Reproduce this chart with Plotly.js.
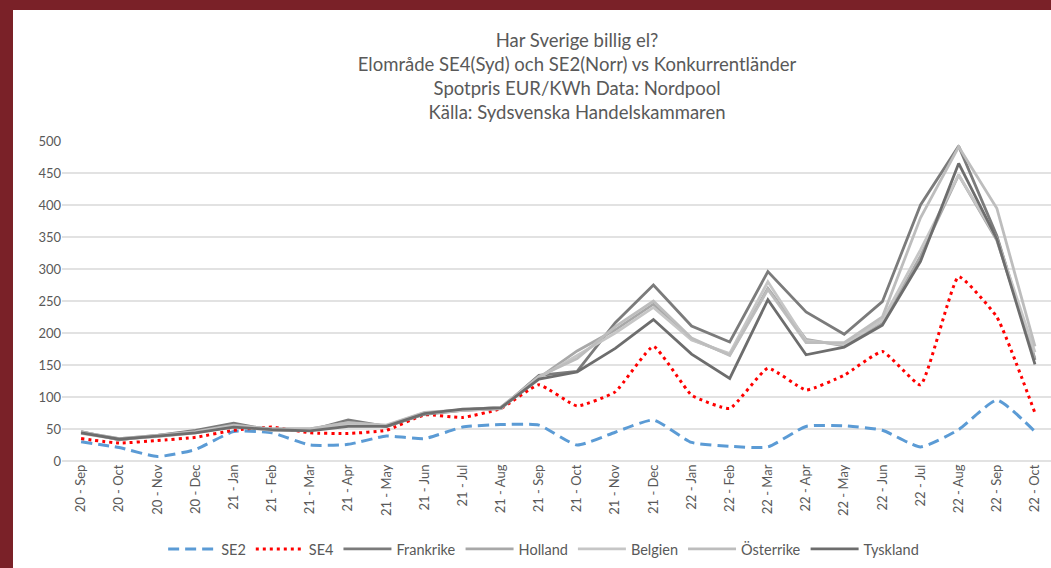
<!DOCTYPE html>
<html>
<head>
<meta charset="utf-8">
<script src="https://cdn.plot.ly/plotly-3.0.1.min.js"></script>
<style>
  html, body { margin: 0; padding: 0; background: #7a2128; width: 1051px; height: 568px; overflow: hidden; }
  #chart { position: absolute; left: 13px; top: 10px; width: 1038px; height: 558px; background: #ffffff; }
</style>
</head>
<body>
<div id="chart"></div>
<script>
const categories = ["20 - Sep","20 - Oct","20 - Nov","20 - Dec","21 - Jan","21 - Feb","21 - Mar","21 - Apr","21 - May","21 - Jun","21 - Jul","21 - Aug","21 - Sep","21 - Oct","21 - Nov","21 - Dec","22 - Jan","22 - Feb","22 - Mar","22 - Apr","22 - May","22 - Jun","22 - Jul","22 - Aug","22 - Sep","22 - Oct"];

const se2       = [30,21,7,18,46,44,25,26,39,35,53,57,56,25,45,64,29,23,22,54,55,48,22,49,95,46];
const se4       = [35,28,32,37,48,53,44,43,48,72,68,82,119,86,108,179,103,82,145,111,134,171,119,288,225,75];
const frankrike = [46,33,40,48,59,48,48,64,54,73,79,82,134,140,216,275,211,186,296,233,198,249,400,492,352,158];
const holland   = [45,35,40,45,55,50,50,60,55,75,80,84,130,172,205,245,190,166,270,190,180,215,320,447,345,160];
const belgien   = [43,34,38,44,54,48,49,57,55,74,79,82,130,165,200,240,189,168,280,188,182,220,330,447,348,170];
const osterrike = [45,35,40,46,56,50,50,60,56,76,80,84,132,160,210,250,192,165,268,185,185,225,380,491,395,179];
const tyskland  = [44,34,39,44,53,49,47,54,54,74,81,83,128,139,176,221,167,129,252,166,178,212,312,465,347,151];

const titleLines = ["Har Sverige billig el?","Elområde SE4(Syd) och SE2(Norr) vs Konkurrentländer","Spotpris EUR/KWh Data: Nordpool","Källa: Sydsvenska Handelskammaren"];

const FONT = "Lato, 'Open Sans', sans-serif";

const traces = [
  {name:"SE2", y:se2, line:{color:"#5b9bd5", width:3, dash:"11px,6px", shape:"spline", smoothing:0.5}},
  {name:"SE4", y:se4, line:{color:"#ff0000", width:3, dash:"3px,4px", shape:"spline", smoothing:0.4}},
  {name:"Frankrike", y:frankrike, line:{color:"#7b7b7b", width:2.8}},
  {name:"Holland", y:holland, line:{color:"#a8a8a8", width:2.8}},
  {name:"Belgien", y:belgien, line:{color:"#c6c6c6", width:2.8}},
  {name:"Österrike", y:osterrike, line:{color:"#bdbdbd", width:2.8}},
  {name:"Tyskland", y:tyskland, line:{color:"#6d6d6d", width:2.8}}
].map(t => Object.assign({type:"scatter", mode:"lines", x:categories, hoverinfo:"skip"}, t));

const layout = {
  width: 1038, height: 558,
  paper_bgcolor: "#ffffff", plot_bgcolor: "#ffffff",
  margin: {l:49, r:0, t:131, b:107, pad:0},
  font: {family: FONT, color:"#595959", size:12},
  title: {
    text: titleLines.join("<br>"),
    font: {family: FONT, size:18.5, color:"#595959"},
    xref: "container", x: 0.5434, xanchor: "center",
    yref: "container", y: 0.934, yanchor: "top"
  },
  xaxis: {
    type: "category", range: [-0.5, 25.42],
    showgrid: false, zeroline: false, showline: false,
    ticks: "", tickangle: -90,
    tickfont: {family: FONT, size:13, color:"#595959"},
    fixedrange: true
  },
  yaxis: {
    range: [0, 500], dtick: 50, tick0: 0,
    showgrid: true, gridcolor: "#e2e2e2", gridwidth: 1.5,
    zeroline: true, zerolinecolor: "#e2e2e2", zerolinewidth: 1.5,
    showline: false, ticks: "",
    tickfont: {family: FONT, size:13, color:"#595959"},
    fixedrange: true
  },
  showlegend: true,
  legend: {
    orientation: "h", xref:"paper", x: 0.487, xanchor: "center",
    yref: "paper", y: -0.225, yanchor: "top",
    font: {family: FONT, size:14.5, color:"#595959"},
    bgcolor: "rgba(0,0,0,0)", itemwidth: 48, tracegroupgap: 0
  }
};

Plotly.newPlot("chart", traces, layout, {staticPlot:true, displayModeBar:false});
</script>
</body>
</html>
